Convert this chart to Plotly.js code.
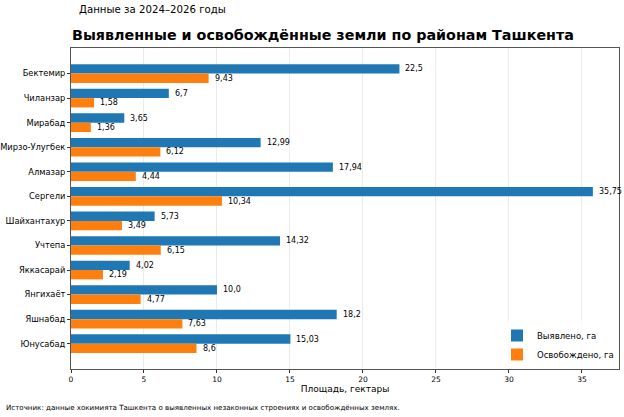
<!DOCTYPE html>
<html>
<head>
<meta charset="utf-8">
<script src="https://cdn.plot.ly/plotly-3.0.1.min.js"></script>
<style>
  html, body { margin: 0; padding: 0; background: #fff; }
  #chart { width: 624px; height: 417px; }
</style>
</head>
<body>
<div id="chart"></div>
<script>
// Районы Ташкента
var districts = ["Бектемир", "Чиланзар", "Мирабад", "Мирзо-Улугбек", "Алмазар", "Сергели",
                 "Шайхантахур", "Учтепа", "Яккасарай", "Янгихаёт", "Яшнабад", "Юнусабад"];
// Выявлено, га
var found = [22.5, 6.7, 3.65, 12.99, 17.94, 35.75, 5.73, 14.32, 4.02, 10.0, 18.2, 15.03];
// Освобождено, га
var freed = [9.43, 1.58, 1.36, 6.12, 4.44, 10.34, 3.49, 6.15, 2.19, 4.77, 7.63, 8.6];
var xTicks = [0, 5, 10, 15, 20, 25, 30, 35];

var blue = "#1f77b4";
var orange = "#ff7f0e";
var barH = 0.38;
var font = "DejaVu Sans, sans-serif";

// число с запятой, как в исходнике (10.0 -> "10,0")
function fmt(v) {
  var s = Number.isInteger(v) ? v.toFixed(1) : String(v);
  return s.replace(".", ",");
}

var traceFound = {
  type: "bar", orientation: "h",
  name: "Выявлено, га",
  y: districts, x: found,
  width: barH, offset: -barH,
  marker: { color: blue },
  hoverinfo: "x+y"
};
var traceFreed = {
  type: "bar", orientation: "h",
  name: "Освобождено, га",
  y: districts, x: freed,
  width: barH, offset: 0,
  marker: { color: orange },
  hoverinfo: "x+y"
};

// подписи значений справа от столбцов
var notes = [];
for (var i = 0; i < districts.length; i++) {
  notes.push({ x: found[i], y: i - barH / 2, xref: "x", yref: "y", text: fmt(found[i]),
               showarrow: false, xanchor: "left", xshift: 4, font: { family: font, size: 8, color: "#000" } });
  notes.push({ x: freed[i], y: i + barH / 2, xref: "x", yref: "y", text: fmt(freed[i]),
               showarrow: false, xanchor: "left", xshift: 4, font: { family: font, size: 8, color: "#000" } });
}

notes.push({ text: "Данные за 2024–2026 годы", xref: "paper", yref: "paper", x: 0.011, y: 1.121,
             xanchor: "left", yanchor: "middle", showarrow: false, font: { family: font, size: 10.2, color: "#000" } });
notes.push({ text: "<b>Выявленные и освобождённые земли по районам Ташкента</b>", xref: "paper", yref: "paper",
             x: -0.002, y: 1.04, xanchor: "left", yanchor: "middle", showarrow: false,
             font: { family: font, size: 14.3, color: "#000" } });
notes.push({ text: "Источник: данные хокимията Ташкента о выявленных незаконных строениях и освобождённых землях.",
             xref: "paper", yref: "paper", x: -0.122, y: -0.121, xanchor: "left", yanchor: "middle",
             showarrow: false, font: { family: font, size: 7.1, color: "#000" } });

var layout = {
  width: 624, height: 417,
  margin: { l: 71, r: 5, t: 48, b: 48 },
  paper_bgcolor: "#fff", plot_bgcolor: "#fff",
  barmode: "overlay",
  showlegend: true,
  legend: { x: 1.0, xanchor: "right", y: 0.0, yanchor: "bottom", bgcolor: "rgba(255,255,255,0.8)",
            font: { family: font, size: 8.5, color: "#000" }, tracegroupgap: 0, itemwidth: 30 },
  xaxis: {
    range: [0, 37.54],
    tickvals: xTicks,
    ticks: "outside", ticklen: 3, tickcolor: "#333",
    tickfont: { family: font, size: 7.5, color: "#000" },
    showgrid: true, gridcolor: "rgba(0,0,0,0.08)", gridwidth: 1,
    layer: "above traces",
    zeroline: false,
    showline: true, mirror: true, linecolor: "#555", linewidth: 1,
    title: { text: "Площадь, гектары", standoff: 0, font: { family: font, size: 9, color: "#000" } }
  },
  yaxis: {
    type: "category",
    range: [12.03, -1.04],
    ticks: "outside", ticklen: 3, tickcolor: "#333",
    tickfont: { family: font, size: 8.3, color: "#000" },
    showgrid: false, zeroline: false,
    showline: true, mirror: true, linecolor: "#555", linewidth: 1
  },
  annotations: notes
};

Plotly.newPlot("chart", [traceFound, traceFreed], layout, { displayModeBar: false, staticPlot: true });
</script>
</body>
</html>
